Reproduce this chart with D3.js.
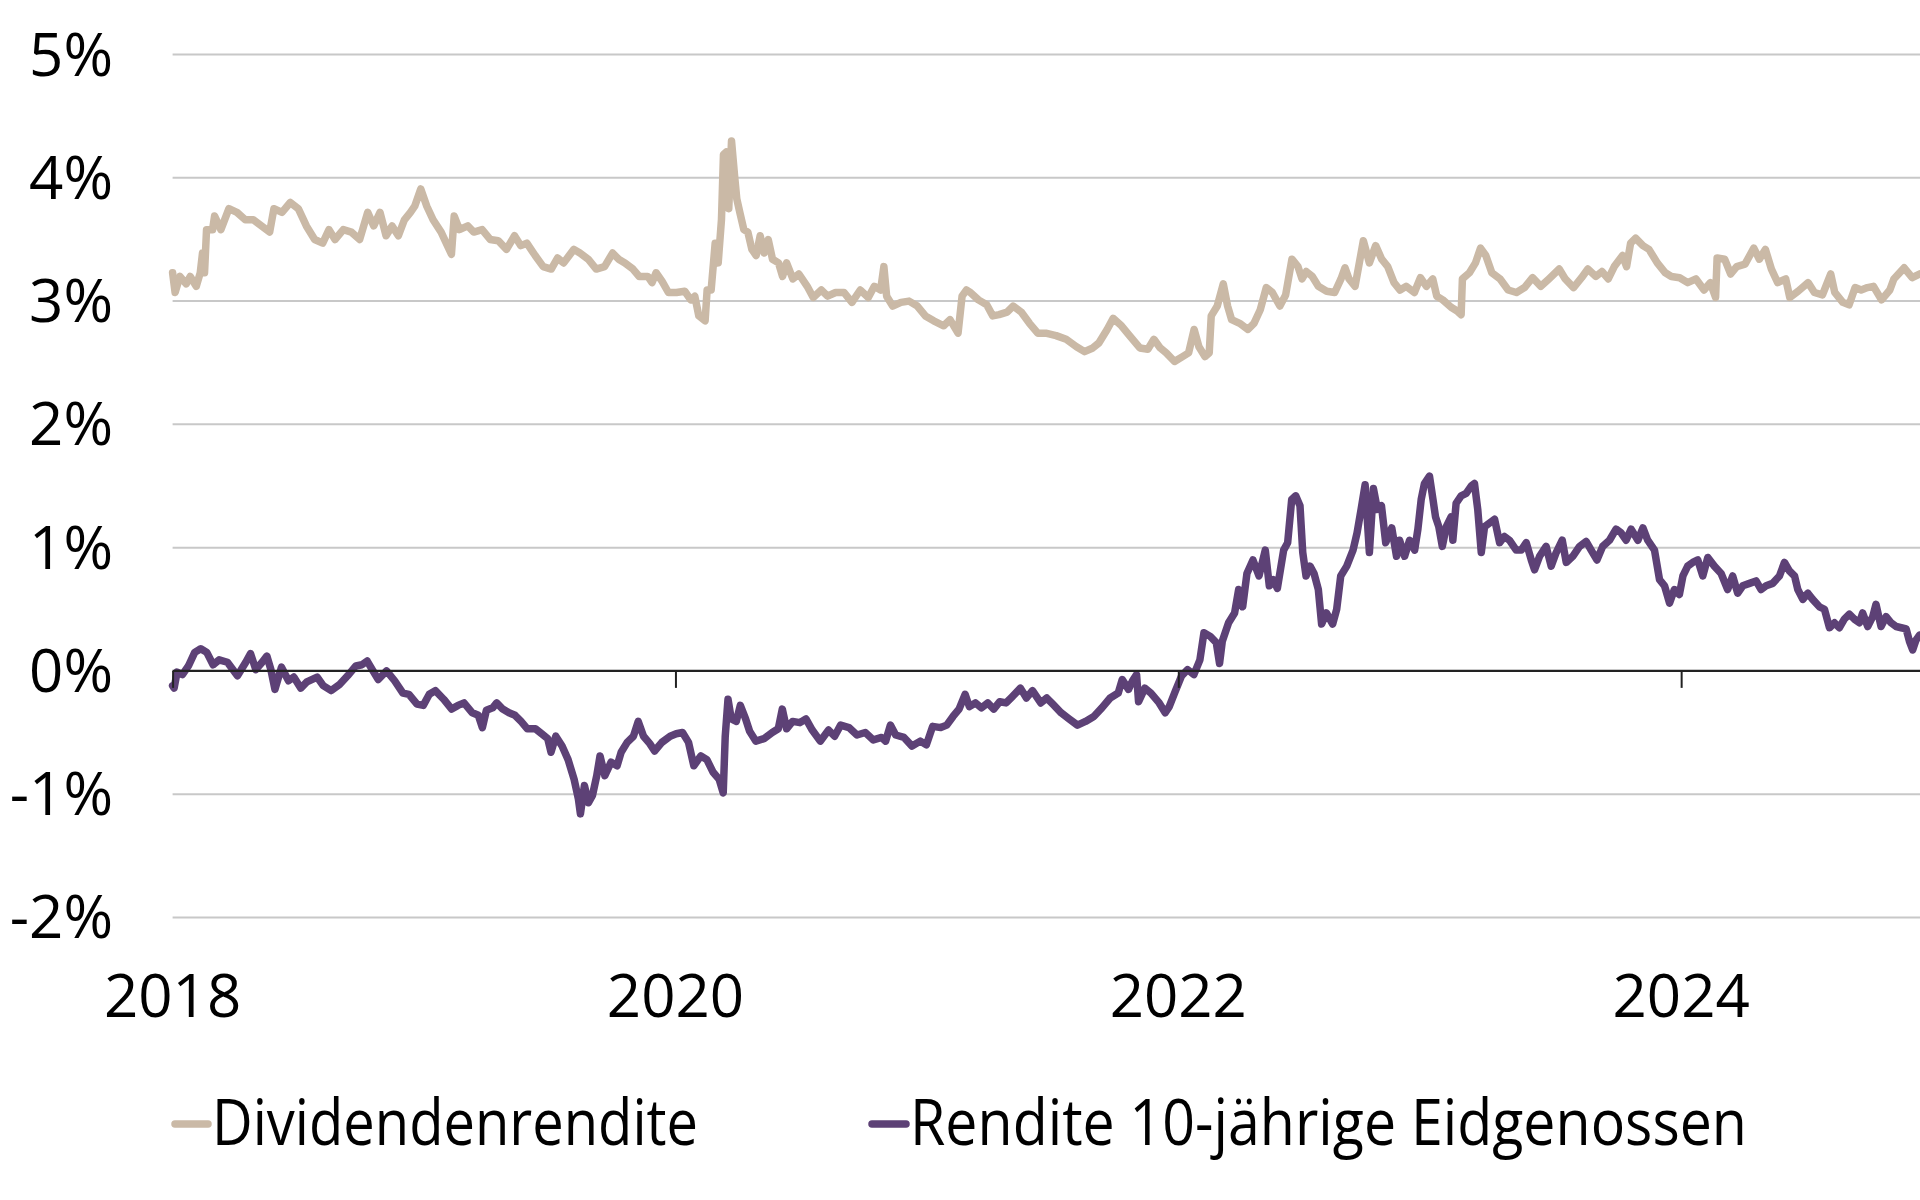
<!DOCTYPE html>
<html><head><meta charset="utf-8">
<script src="https://cdn.jsdelivr.net/npm/d3@7"></script>
<style>html,body{margin:0;padding:0;background:#fff;} svg{display:block;font-family:"Open Sans","Noto Sans",sans-serif;}</style>
</head><body>
<svg id="chart" width="1920" height="1200"></svg>
<script>
// ---- data (decimal years, percent) ----
const yTicks = [-2, -1, 0, 1, 2, 3, 4, 5];
const xTicks = [2018, 2020, 2022, 2024];
const seriesNames = ["Dividendenrendite", "Rendite 10-jährige Eidgenossen"];
const seriesColors = ["#CAB9A6", "#5D4176"];

const divT = [2018.000,2018.010,2018.029,2018.054,2018.070,2018.094,2018.110,2018.119,2018.127,2018.135,2018.159,2018.167,2018.192,2018.224,2018.256,2018.289,2018.321,2018.354,2018.386,2018.403,2018.435,2018.468,2018.500,2018.532,2018.565,2018.597,2018.622,2018.646,2018.679,2018.711,2018.744,2018.776,2018.800,2018.825,2018.849,2018.873,2018.898,2018.922,2018.946,2018.963,2018.987,2019.011,2019.036,2019.068,2019.093,2019.109,2019.120,2019.141,2019.174,2019.198,2019.231,2019.263,2019.295,2019.328,2019.360,2019.385,2019.409,2019.442,2019.474,2019.506,2019.531,2019.555,2019.596,2019.620,2019.653,2019.685,2019.718,2019.750,2019.774,2019.799,2019.831,2019.856,
2019.890,2019.907,2019.923,2019.947,2019.972,2020.004,2020.037,2020.061,2020.077,2020.093,2020.118,2020.126,2020.142,2020.158,2020.170,2020.183,2020.191,2020.202,2020.212,2020.223,2020.235,2020.244,2020.256,2020.272,2020.288,2020.304,2020.321,2020.337,2020.353,2020.369,2020.386,2020.410,2020.426,2020.442,2020.467,2020.491,2020.524,2020.548,2020.580,2020.605,2020.637,2020.670,2020.702,2020.735,2020.767,2020.791,2020.816,2020.829,2020.840,2020.864,2020.897,2020.929,2020.962,2020.994,2021.027,2021.067,2021.092,2021.124,2021.140,2021.157,2021.173,2021.205,2021.238,2021.262,2021.287,2021.319,2021.343,2021.376,2021.408,2021.441,2021.473,2021.514,2021.554,2021.595,2021.627,2021.660,2021.684,2021.717,2021.741,2021.774,2021.806,2021.847,2021.879,2021.903,2021.928,2021.952,2021.985,2022.017,2022.041,2022.063,2022.082,2022.106,2022.123,2022.131,2022.155,2022.179,2022.196,2022.212,2022.244,2022.277,2022.301,2022.326,2022.350,2022.374,2022.404,
2022.427,2022.452,2022.476,2022.492,2022.509,2022.533,2022.557,2022.590,2022.622,2022.647,2022.663,2022.679,2022.703,2022.720,2022.736,2022.760,2022.785,2022.809,2022.833,2022.858,2022.882,2022.906,2022.939,2022.963,2022.987,2023.012,2023.028,2023.052,2023.085,2023.109,2023.125,2023.130,2023.158,2023.182,2023.202,2023.223,2023.247,2023.280,2023.312,2023.345,2023.377,2023.409,2023.442,2023.474,2023.515,2023.539,2023.572,2023.604,2023.629,2023.661,2023.685,2023.710,2023.734,2023.767,2023.783,2023.799,2023.819,2023.848,2023.872,2023.905,2023.937,2023.961,2023.994,2024.026,2024.059,2024.091,2024.116,2024.137,2024.143,2024.173,2024.197,2024.221,2024.254,2024.289,2024.311,2024.335,2024.359,2024.384,2024.416,2024.432,2024.465,2024.505,2024.530,2024.562,2024.595,2024.611,2024.643,2024.668,2024.692,2024.716,2024.741,2024.765,2024.797,2024.830,2024.846,2024.887,2024.919,2024.948];
const divV = [3.23,3.07,3.20,3.14,3.20,3.12,3.23,3.39,3.23,3.58,3.58,3.69,3.58,3.75,3.72,3.66,3.66,3.61,3.56,3.75,3.72,3.80,3.75,3.61,3.50,3.47,3.58,3.50,3.58,3.56,3.50,3.72,3.61,3.72,3.53,3.61,3.53,3.66,3.72,3.77,3.91,3.77,3.66,3.56,3.45,3.38,3.69,3.58,3.61,3.56,3.58,3.50,3.49,3.42,3.53,3.45,3.47,3.37,3.28,3.26,3.35,3.31,3.42,3.39,3.34,3.26,3.28,3.39,3.34,3.31,3.26,3.20,
3.20,3.15,3.23,3.16,3.07,3.07,3.08,3.01,3.04,2.88,2.84,3.09,3.09,3.47,3.31,3.66,4.19,4.21,3.75,4.30,4.02,3.83,3.72,3.58,3.56,3.42,3.37,3.53,3.39,3.50,3.34,3.31,3.20,3.31,3.18,3.22,3.12,3.03,3.09,3.04,3.07,3.07,2.99,3.09,3.03,3.12,3.09,3.28,3.04,2.96,2.99,3.00,2.96,2.88,2.84,2.80,2.85,2.74,3.04,3.09,3.07,3.01,2.97,2.88,2.89,2.91,2.96,2.91,2.82,2.74,2.74,2.72,2.69,2.63,2.59,2.62,2.66,2.77,2.86,2.80,2.72,2.62,2.61,2.69,2.62,2.58,2.51,2.55,2.58,2.77,2.63,2.55,2.58,2.88,2.96,3.14,2.96,2.85,2.82,2.77,2.82,2.93,3.11,3.07,2.96,
3.05,3.34,3.28,3.18,3.24,3.20,3.12,3.08,3.07,3.18,3.27,3.18,3.12,3.31,3.49,3.31,3.45,3.34,3.28,3.15,3.09,3.12,3.07,3.19,3.12,3.18,3.04,3.01,2.95,2.92,2.89,3.18,3.23,3.31,3.43,3.37,3.23,3.18,3.09,3.07,3.11,3.19,3.12,3.18,3.26,3.18,3.11,3.19,3.26,3.20,3.24,3.18,3.28,3.37,3.28,3.47,3.51,3.45,3.42,3.31,3.23,3.20,3.19,3.15,3.18,3.09,3.15,3.03,3.35,3.34,3.22,3.28,3.30,3.43,3.34,3.42,3.26,3.15,3.18,3.03,3.08,3.15,3.07,3.05,3.22,3.07,2.99,2.97,3.11,3.09,3.11,3.12,3.01,3.09,3.18,3.27,3.19,3.22];

const govT = [2018.000,2018.006,2018.018,2018.039,2018.063,2018.088,2018.112,2018.136,2018.161,2018.185,2018.218,2018.258,2018.291,2018.310,2018.331,2018.356,2018.375,2018.391,2018.407,2018.433,2018.461,2018.482,2018.510,2018.534,2018.575,2018.599,2018.631,2018.664,2018.696,2018.729,2018.753,2018.774,2018.794,2018.818,2018.851,2018.883,2018.916,2018.940,2018.972,2018.997,2019.021,2019.045,2019.078,2019.110,2019.135,2019.159,2019.192,2019.216,2019.232,2019.248,2019.273,2019.289,2019.313,2019.338,2019.362,2019.386,2019.411,2019.443,2019.468,2019.492,2019.505,2019.524,2019.549,2019.573,2019.597,2019.614,2019.622,2019.638,2019.654,2019.670,2019.687,2019.700,2019.719,2019.744,2019.768,2019.784,2019.808,2019.833,2019.852,2019.873,2019.898,2019.917,2019.946,2019.979,2020.003,2020.028,2020.052,2020.073,2020.101,2020.125,2020.149,2020.174,2020.190,2020.198,2020.209,2020.222,2020.242,2020.258,2020.279,2020.295,2020.320,2020.352,2020.385,2020.409,2020.425,2020.442,2020.466,
2020.495,2020.519,2020.544,2020.576,2020.609,2020.633,2020.657,2020.690,2020.722,2020.755,2020.787,2020.820,2020.836,2020.855,2020.876,2020.909,2020.941,2020.974,2020.998,2021.023,2021.055,2021.079,2021.104,2021.128,2021.152,2021.169,2021.193,2021.217,2021.242,2021.266,2021.290,2021.315,2021.339,2021.372,2021.396,2021.420,2021.453,2021.477,2021.501,2021.534,2021.566,2021.599,2021.631,2021.664,2021.696,2021.729,2021.761,2021.777,2021.802,2021.818,2021.834,2021.842,2021.867,2021.891,2021.924,2021.948,2021.964,2021.989,2022.013,2022.037,2022.062,2022.086,2022.102,2022.127,2022.151,2022.164,2022.175,2022.200,2022.224,2022.240,2022.256,2022.273,2022.297,2022.321,2022.346,2022.362,2022.378,2022.394,2022.419,2022.435,2022.451,2022.467,2022.484,2022.495,2022.508,2022.524,2022.540,2022.557,2022.570,2022.589,2022.614,2022.630,2022.646,2022.670,2022.695,2022.711,2022.727,2022.743,2022.760,2022.776,2022.792,2022.808,2022.825,2022.849,2022.868,
2022.880,2022.900,2022.920,2022.940,2022.953,2022.966,2022.979,2022.999,2023.013,2023.023,2023.036,2023.050,2023.066,2023.085,2023.092,2023.105,2023.125,2023.145,2023.165,2023.178,2023.191,2023.205,2023.218,2023.238,2023.258,2023.278,2023.297,2023.317,2023.344,2023.364,2023.384,2023.404,2023.417,2023.437,2023.463,2023.483,2023.503,2023.527,2023.543,2023.569,2023.596,2023.622,2023.642,2023.665,2023.688,2023.715,2023.741,2023.761,2023.781,2023.801,2023.828,2023.848,2023.867,2023.894,2023.914,2023.934,2023.954,2023.973,2023.993,2024.007,2024.026,2024.046,2024.066,2024.086,2024.106,2024.132,2024.159,2024.185,2024.205,2024.225,2024.245,2024.272,2024.298,2024.318,2024.338,2024.364,2024.391,2024.411,2024.431,2024.451,2024.464,2024.484,2024.504,2024.523,2024.550,2024.570,2024.590,2024.610,2024.629,2024.649,2024.669,2024.689,2024.709,2024.722,2024.742,2024.762,2024.775,2024.795,2024.815,2024.835,2024.855,2024.875,2024.895,2024.908,2024.921,2024.934,2024.948];
const govV = [-0.12,-0.14,-0.01,-0.03,0.04,0.15,0.18,0.15,0.05,0.09,0.07,-0.04,0.07,0.14,0.01,0.07,0.12,0.01,-0.15,0.03,-0.08,-0.05,-0.14,-0.09,-0.05,-0.12,-0.16,-0.11,-0.04,0.04,0.05,0.08,0.01,-0.07,0.00,-0.08,-0.18,-0.19,-0.27,-0.28,-0.19,-0.16,-0.23,-0.31,-0.28,-0.26,-0.34,-0.36,-0.46,-0.32,-0.30,-0.26,-0.31,-0.34,-0.36,-0.41,-0.47,-0.47,-0.51,-0.55,-0.66,-0.53,-0.61,-0.72,-0.88,-1.04,-1.16,-0.93,-1.07,-1.01,-0.85,-0.69,-0.85,-0.74,-0.77,-0.66,-0.58,-0.53,-0.41,-0.53,-0.59,-0.65,-0.58,-0.53,-0.51,-0.50,-0.58,-0.77,-0.69,-0.72,-0.82,-0.88,-0.99,-0.53,-0.23,-0.39,-0.41,-0.28,-0.39,-0.49,-0.57,-0.55,-0.50,-0.47,-0.31,-0.47,-0.41,
-0.42,-0.39,-0.48,-0.57,-0.48,-0.53,-0.44,-0.46,-0.52,-0.50,-0.56,-0.54,-0.57,-0.44,-0.52,-0.54,-0.61,-0.57,-0.60,-0.45,-0.46,-0.44,-0.37,-0.31,-0.19,-0.29,-0.26,-0.30,-0.26,-0.31,-0.25,-0.26,-0.21,-0.14,-0.22,-0.16,-0.26,-0.22,-0.27,-0.34,-0.39,-0.44,-0.41,-0.37,-0.30,-0.22,-0.18,-0.07,-0.15,-0.08,-0.03,-0.25,-0.14,-0.18,-0.26,-0.34,-0.29,-0.16,-0.04,0.01,-0.03,0.09,0.31,0.28,0.23,0.06,0.24,0.39,0.47,0.66,0.52,0.79,0.90,0.77,0.98,0.69,0.74,0.67,0.98,1.04,1.39,1.42,1.34,0.96,0.77,0.85,0.79,0.66,0.38,0.47,0.38,0.50,0.77,0.85,0.98,1.12,1.31,1.51,0.96,1.48,1.31,1.34,1.04,1.16,0.93,
1.06,0.93,1.06,0.98,1.15,1.39,1.52,1.58,1.39,1.25,1.17,1.01,1.17,1.25,1.06,1.36,1.42,1.44,1.50,1.52,1.31,0.96,1.17,1.20,1.23,1.04,1.09,1.06,0.98,0.98,1.04,0.90,0.82,0.93,1.01,0.85,0.96,1.06,0.88,0.93,1.01,1.05,0.98,0.90,1.01,1.06,1.15,1.12,1.06,1.15,1.06,1.16,1.06,0.98,0.74,0.69,0.55,0.66,0.62,0.77,0.85,0.88,0.90,0.77,0.92,0.85,0.79,0.66,0.77,0.63,0.69,0.71,0.73,0.66,0.69,0.71,0.77,0.88,0.81,0.77,0.66,0.58,0.63,0.58,0.52,0.50,0.35,0.39,0.35,0.42,0.46,0.42,0.39,0.47,0.36,0.44,0.54,0.36,0.44,0.39,0.36,0.35,0.34,0.24,0.17,0.25,0.29];

// ---- scales ----
const x = d3.scaleLinear().domain([2018, 2024.95]).range([172.6, 1920]);
const y = d3.scaleLinear().domain([-2, 5]).range([917.4, 54.6]);

const svg = d3.select("#chart");

// gridlines
svg.append("g").selectAll("line").data(yTicks.filter(d => d !== 0)).join("line")
  .attr("x1", x(2018)).attr("x2", 1920)
  .attr("y1", d => y(d)).attr("y2", d => y(d))
  .attr("stroke", "#c8c8c8").attr("stroke-width", 2);

// y labels
svg.append("g").selectAll("text").data(yTicks).join("text")
  .attr("x", 113).attr("y", d => y(d) + 21)
  .attr("text-anchor", "end").attr("font-size", 60).attr("fill", "#000")
  .text(d => d + "%");

// series lines
const series = [
  {t: divT, v: divV, c: seriesColors[0]},
  {t: govT, v: govV, c: seriesColors[1]}
];
const line = d3.line().x(d => x(d[0])).y(d => y(d[1]));
series.forEach(s => {
  const pts = s.t.map((t, i) => [t, s.v[i]]);
  svg.append("path").datum(pts)
    .attr("d", line).attr("fill", "none")
    .attr("stroke", s.c).attr("stroke-width", 7.5)
    .attr("stroke-linejoin", "round").attr("stroke-linecap", "round");
});

// zero line + year ticks
const xAxis = d3.axisBottom(x).tickValues(xTicks).tickSize(17).tickFormat("");
const ax = svg.append("g").attr("transform", `translate(0,${y(0)})`).call(xAxis);
ax.select(".domain").remove();
ax.selectAll(".tick line").attr("stroke", "#222").attr("stroke-width", 2);
svg.append("line").attr("x1", x(2018)).attr("x2", 1920)
  .attr("y1", y(0)).attr("y2", y(0)).attr("stroke", "#222").attr("stroke-width", 2.2);

// x labels
svg.append("g").selectAll("text").data(xTicks).join("text")
  .attr("x", d => x(d)).attr("y", 1017)
  .attr("text-anchor", "middle").attr("font-size", 60).attr("fill", "#000")
  .text(d => d);

// legend
const legend = [
  {name: seriesNames[0], c: seriesColors[0], lx: 175, tx: 212, tw: 486},
  {name: seriesNames[1], c: seriesColors[1], lx: 872, tx: 910, tw: 837}
];
legend.forEach(l => {
  svg.append("line").attr("x1", l.lx).attr("x2", l.tx - 4)
    .attr("y1", 1124).attr("y2", 1124)
    .attr("stroke", l.c).attr("stroke-width", 7.5).attr("stroke-linecap", "round");
  svg.append("text").attr("x", l.tx).attr("y", 1145)
    .attr("font-size", 64).attr("fill", "#000")
    .attr("textLength", l.tw).attr("lengthAdjust", "spacingAndGlyphs")
    .text(l.name);
});
</script>
</body></html>
